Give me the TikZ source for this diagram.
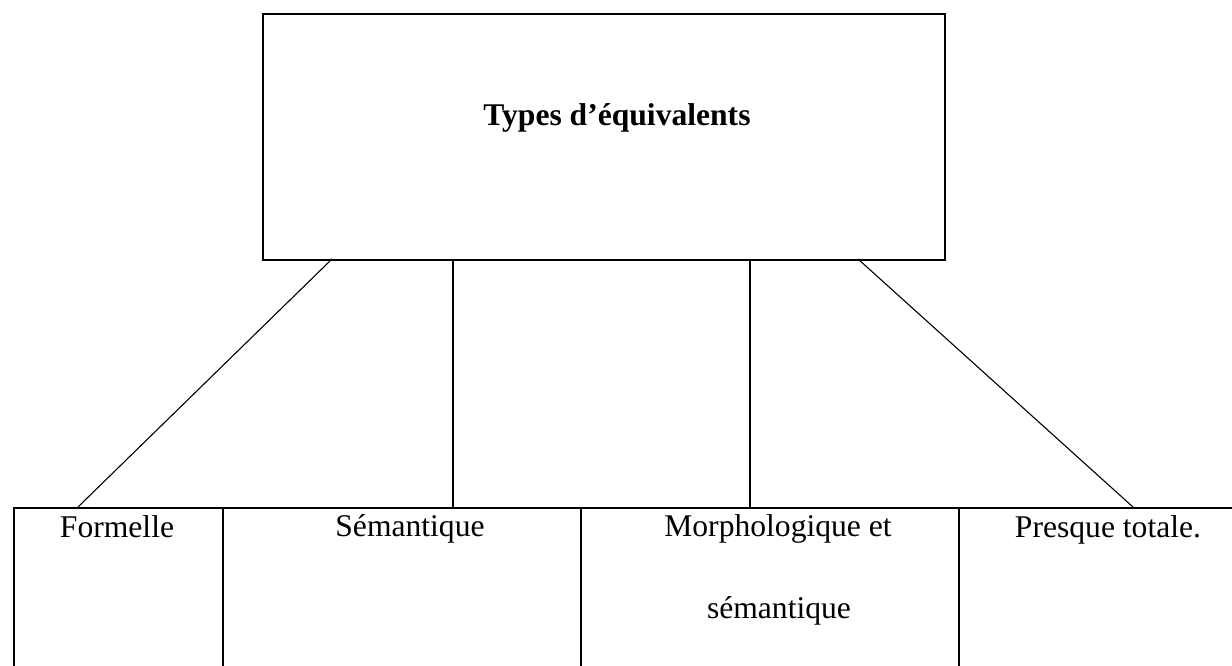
\documentclass[tikz,border=0pt]{standalone}
\usepackage{fontspec}
\setmainfont{Liberation Serif}
\begin{document}
\begin{tikzpicture}[x=0.5pt,y=-0.5pt,
  frame/.style={draw=black,line width=1pt,inner sep=0pt,anchor=north west},
  link/.style={draw=black,line width=0.55pt},
  label/.style={font=\fontsize{15.8}{19}\selectfont,inner sep=0pt,anchor=base},
  heading/.style={font=\fontsize{15.8}{19}\selectfont\bfseries,inner sep=0pt,anchor=base west}]
\useasboundingbox (0,0) rectangle (1232,665);
\clip (0,0) rectangle (1232,665);

% heading box
\node[frame,minimum width=341pt,minimum height=123pt] (head) at (262,13) {};
\node[heading] (title) at (483,125) {Types d’équivalents};

% table of the four types (runs past the right and bottom edges)
\node[frame,minimum width=104.65pt,minimum height=120pt] (c1) at (12.7,507) {};
\node[frame,minimum width=179pt,minimum height=120pt] (c2) at (222,507) {};
\node[frame,minimum width=189pt,minimum height=120pt] (c3) at (580,507) {};
\node[frame,minimum width=160pt,minimum height=120pt] (c4) at (958,507) {};

\node[label] (t1) at (117,537) {Formelle};
\node[label] (t2) at (410,536) {Sémantique};
\node[label] (t3) at (778,536) {Morphologique et};
\node[label] (t3b) at (779,618) {sémantique};
\node[label] (t4) at (1108,537) {Presque totale.};

% connector end points
\coordinate (h1) at (332,259);
\coordinate (h2) at (453,259);
\coordinate (h3) at (750,259);
\coordinate (h4) at (858,259);
\coordinate (b1) at (78,507);
\coordinate (b2) at (453,507);
\coordinate (b3) at (750,507);
\coordinate (b4) at (1133,507);

\draw[link] (h1) -- (b1);
\draw[link] (h2) -- (b2);
\draw[link] (h3) -- (b3);
\draw[link] (h4) -- (b4);
\end{tikzpicture}
\end{document}
